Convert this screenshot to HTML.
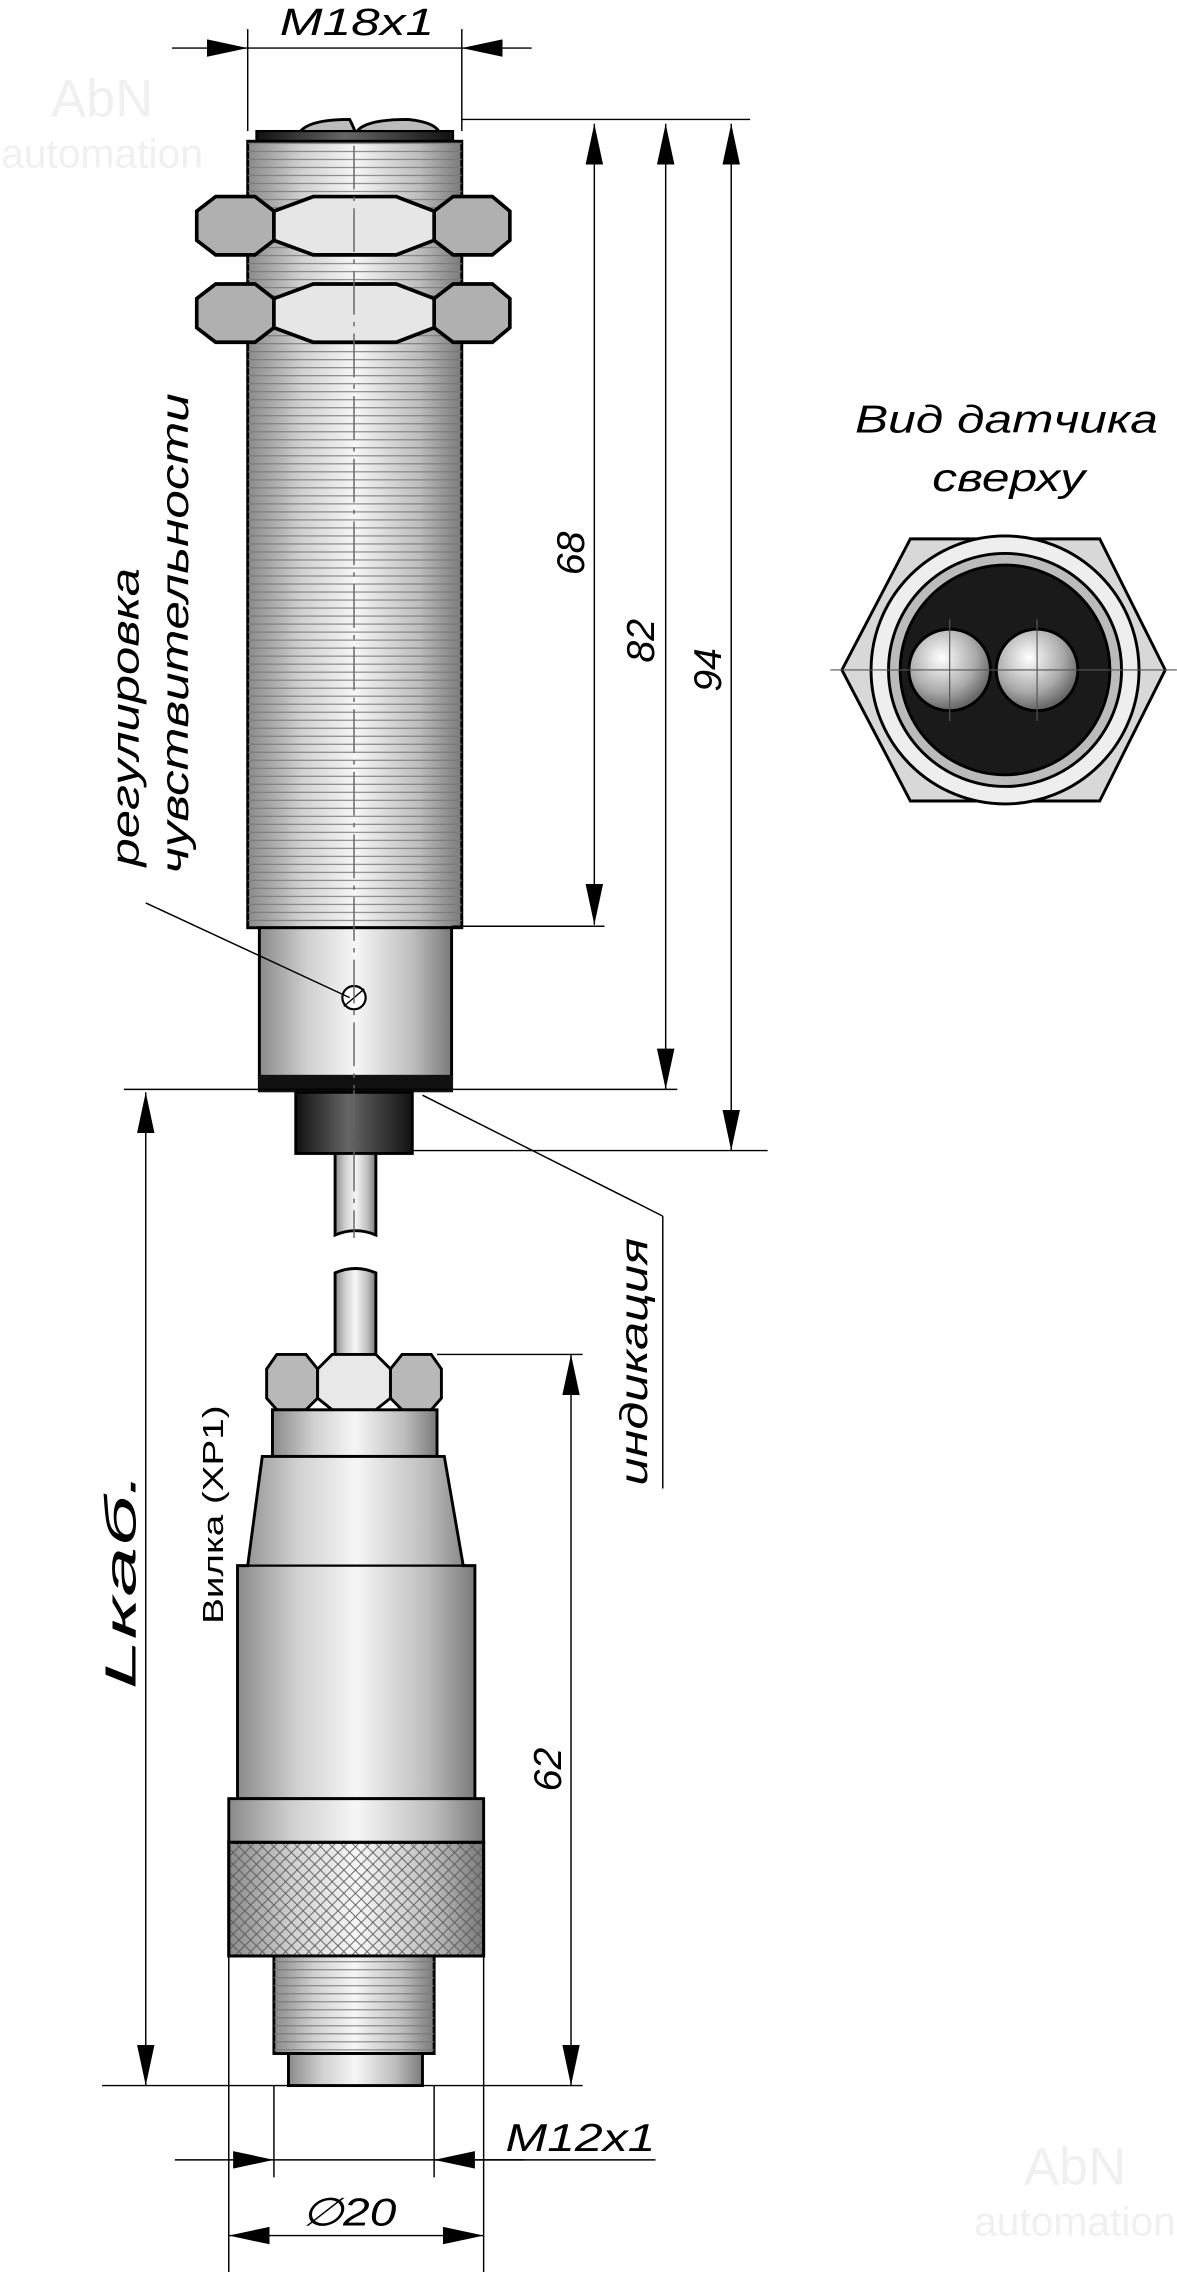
<!DOCTYPE html>
<html><head><meta charset="utf-8"><style>
html,body{margin:0;padding:0;background:#fff;}
svg{display:block;}
text{font-family:"Liberation Sans",sans-serif;}
</style></head><body>
<svg width="1177" height="2288" viewBox="0 0 808 1571" xmlns="http://www.w3.org/2000/svg">
<defs>
<linearGradient id="cyl" x1="0" x2="1" y1="0" y2="0">
<stop offset="0" stop-color="#8a8a8a"/><stop offset="0.25" stop-color="#d0d0d0"/><stop offset="0.5" stop-color="#f6f6f6"/><stop offset="0.8" stop-color="#bdbdbd"/><stop offset="1" stop-color="#7a7a7a"/>
</linearGradient>
<linearGradient id="dark" x1="0" x2="1"><stop offset="0" stop-color="#111"/><stop offset="0.45" stop-color="#666"/><stop offset="1" stop-color="#111"/></linearGradient>
<radialGradient id="ball" cx="0.4" cy="0.35" r="0.7"><stop offset="0" stop-color="#fff"/><stop offset="0.6" stop-color="#aaa"/><stop offset="1" stop-color="#555"/></radialGradient>
<pattern id="thr" width="10" height="5.5" patternUnits="userSpaceOnUse"><line x1="0" y1="5" x2="10" y2="5" stroke="#777" stroke-width="0.7"/></pattern>
<pattern id="knurl" width="8" height="8" patternUnits="userSpaceOnUse"><path d="M0 0L8 8M8 0L0 8" stroke="#555" stroke-width="0.6"/></pattern>
<marker id="b" markerWidth="28" markerHeight="12" refX="28" refY="6" orient="auto-start-reverse" markerUnits="userSpaceOnUse"><path d="M0 0L28 6L0 12z" fill="#000"/></marker>
</defs>
<text x="70" y="80" font-size="36" fill="#f0f0f0" text-anchor="middle">AbN</text>
<text x="70" y="115" font-size="28" fill="#f0f0f0" text-anchor="middle">automation</text>
<text x="738" y="1500" font-size="36" fill="#f0f0f0" text-anchor="middle">AbN</text>
<text x="738" y="1535" font-size="28" fill="#f0f0f0" text-anchor="middle">automation</text>

<text x="192" y="24" font-size="26" font-style="italic" textLength="106" lengthAdjust="spacingAndGlyphs">M18x1</text>
<line x1="170" y1="20" x2="170" y2="90" stroke="#000" stroke-width="1"/>
<line x1="317" y1="20" x2="317" y2="90" stroke="#000" stroke-width="1"/>
<line x1="118" y1="33" x2="170" y2="33" stroke="#000" marker-end="url(#b)"/>
<line x1="365" y1="33" x2="317" y2="33" stroke="#000" marker-end="url(#b)"/>
<line x1="170" y1="33" x2="317" y2="33" stroke="#000"/>

<path d="M205 92 Q210 82 240 82 Q244 90 244 92 Q248 82 280 82 Q300 84 302 92z" fill="#bbb" stroke="#000" stroke-width="2"/>
<rect x="176" y="90" width="135" height="8" fill="url(#dark)" stroke="#000" stroke-width="1.5"/>
<rect x="170" y="97" width="147" height="540" fill="url(#cyl)" stroke="#000" stroke-width="2"/>
<rect x="170" y="97" width="147" height="540" fill="url(#thr)"/>
<g stroke="#000" stroke-width="2.5">
<polygon points="135,145 148,135 175,135 188,145 188,165 175,175 148,175 135,165" fill="#b0b0b0"/>
<polygon points="298,145 311,135 338,135 350,145 350,165 338,175 311,175 298,165" fill="#b0b0b0"/>
<polygon points="188,145 215,135 272,135 298,145 298,165 272,175 215,175 188,165" fill="#e6e6e6"/>
<polygon points="135,205 148,195 175,195 188,205 188,225 175,235 148,235 135,225" fill="#b0b0b0"/>
<polygon points="298,205 311,195 338,195 350,205 350,225 338,235 311,235 298,225" fill="#b0b0b0"/>
<polygon points="188,205 215,195 272,195 298,205 298,225 272,235 215,235 188,225" fill="#e6e6e6"/>
</g>
<rect x="178" y="637" width="132" height="103" fill="url(#cyl)" stroke="#000" stroke-width="2"/>
<rect x="177" y="738" width="134" height="12" fill="#111"/>
<circle cx="243" cy="685" r="8" fill="#fff" stroke="#000" stroke-width="1.5"/>
<line x1="236" y1="691" x2="250" y2="679" stroke="#000"/>
<rect x="203" y="750" width="80" height="42" fill="url(#dark)" stroke="#000" stroke-width="2"/>
<path d="M230 792 L230 848 Q244 842 258 848 L258 792z" fill="url(#cyl)" stroke="#000" stroke-width="2"/>
<path d="M230 930 L230 874 Q244 868 258 874 L258 930z" fill="url(#cyl)" stroke="#000" stroke-width="2"/>
<line x1="243" y1="100" x2="243" y2="850" stroke="#666" stroke-width="1" stroke-dasharray="30,5,3,5"/>

<g stroke="#000" stroke-width="2">
<polygon points="183,940 190,930 210,930 218,940 218,960 210,968 190,968 183,960" fill="#b8b8b8"/>
<polygon points="268,940 276,930 296,930 303,940 303,960 296,968 276,968 268,960" fill="#b8b8b8"/>
<polygon points="218,940 228,930 258,930 268,940 268,960 258,968 228,968 218,960" fill="#e8e8e8"/>
<rect x="187" y="968" width="113" height="32" fill="url(#cyl)"/>
<path d="M180 1000 L305 1000 L318 1075 L326 1075 L326 1235 L163 1235 L163 1075 L170 1075z" fill="url(#cyl)"/>
<rect x="157" y="1235" width="175" height="30" fill="url(#cyl)"/>
<rect x="157" y="1265" width="175" height="78" fill="url(#cyl)"/>
<rect x="157" y="1265" width="175" height="78" fill="url(#knurl)"/>
<rect x="188" y="1343" width="110" height="67" fill="url(#cyl)"/>
<rect x="198" y="1410" width="92" height="22" fill="url(#cyl)"/>
</g>
<rect x="188" y="1343" width="110" height="67" fill="url(#thr)"/>
<line x1="170" y1="1075" x2="318" y2="1075" stroke="#000" stroke-width="1.5"/>

<g stroke="#000" stroke-width="1" fill="none">
<line x1="317" y1="82" x2="515" y2="82"/>
<line x1="310" y1="636" x2="415" y2="636"/>
<line x1="85" y1="748" x2="465" y2="748"/>
<line x1="283" y1="790" x2="527" y2="790"/>
<line x1="408" y1="85" x2="408" y2="635" marker-start="url(#b)" marker-end="url(#b)"/>
<line x1="457" y1="85" x2="457" y2="748" marker-start="url(#b)" marker-end="url(#b)"/>
<line x1="502" y1="85" x2="502" y2="790" marker-start="url(#b)" marker-end="url(#b)"/>
<line x1="300" y1="930" x2="400" y2="930"/>
<line x1="70" y1="1432" x2="400" y2="1432"/>
<line x1="100" y1="750" x2="100" y2="1432" marker-start="url(#b)" marker-end="url(#b)"/>
<line x1="392" y1="930" x2="392" y2="1432" marker-start="url(#b)" marker-end="url(#b)"/>
<line x1="188" y1="1432" x2="188" y2="1495"/>
<line x1="298" y1="1432" x2="298" y2="1495"/>
<line x1="157" y1="1343" x2="157" y2="1560"/>
<line x1="332" y1="1343" x2="332" y2="1560"/>
<line x1="120" y1="1483" x2="188" y2="1483" marker-end="url(#b)"/>
<line x1="360" y1="1483" x2="298" y2="1483" marker-end="url(#b)"/>
<line x1="188" y1="1483" x2="450" y2="1483"/>
<line x1="157" y1="1535" x2="332" y2="1535" marker-start="url(#b)" marker-end="url(#b)"/>
<line x1="100" y1="620" x2="240" y2="685"/>
<line x1="290" y1="752" x2="455" y2="835"/>
<line x1="455" y1="835" x2="455" y2="1022"/>
</g>
<g font-size="27" font-style="italic">
<text transform="translate(401,380) rotate(-90)" text-anchor="middle">68</text>
<text transform="translate(449,440) rotate(-90)" text-anchor="middle">82</text>
<text transform="translate(495,460) rotate(-90)" text-anchor="middle">94</text>
<text transform="translate(385,1215) rotate(-90)" text-anchor="middle">62</text>
<text transform="translate(93,1160) rotate(-90)" textLength="150" lengthAdjust="spacingAndGlyphs" font-size="30">Lкаб.</text>
<text x="347" y="1477" textLength="103" lengthAdjust="spacingAndGlyphs">M12x1</text>
<text x="207" y="1528" textLength="65" lengthAdjust="spacingAndGlyphs">∅20</text>
<text transform="translate(95,595) rotate(-90)" textLength="205" lengthAdjust="spacingAndGlyphs">регулировка</text>
<text transform="translate(129,600) rotate(-90)" textLength="330" lengthAdjust="spacingAndGlyphs">чувствительности</text>
<text transform="translate(444,1020) rotate(-90)" textLength="170" lengthAdjust="spacingAndGlyphs">индикация</text>
<text x="587" y="297" textLength="208" lengthAdjust="spacingAndGlyphs">Вид датчика</text>
<text x="640" y="337" textLength="105" lengthAdjust="spacingAndGlyphs">сверху</text>
</g>
<text transform="translate(153,1115) rotate(-90)" font-size="20" textLength="150" lengthAdjust="spacingAndGlyphs">Вилка (XP1)</text>

<g stroke="#000" stroke-width="2">
<polygon points="578,460 625,370 755,370 800,460 755,550 625,550" fill="#d8d8d8"/>
<circle cx="690" cy="460" r="92" fill="#eee"/>
<circle cx="690" cy="460" r="80" fill="#bbb"/>
<circle cx="690" cy="460" r="72" fill="#1a1a1a"/>
<circle cx="652" cy="460" r="28" fill="url(#ball)"/>
<circle cx="712" cy="460" r="28" fill="url(#ball)"/>
</g>
<g stroke="#555" stroke-width="0.8"><line x1="570" y1="460" x2="808" y2="460"/><line x1="652" y1="425" x2="652" y2="495"/><line x1="712" y1="425" x2="712" y2="495"/></g>
</svg>
</body></html>
